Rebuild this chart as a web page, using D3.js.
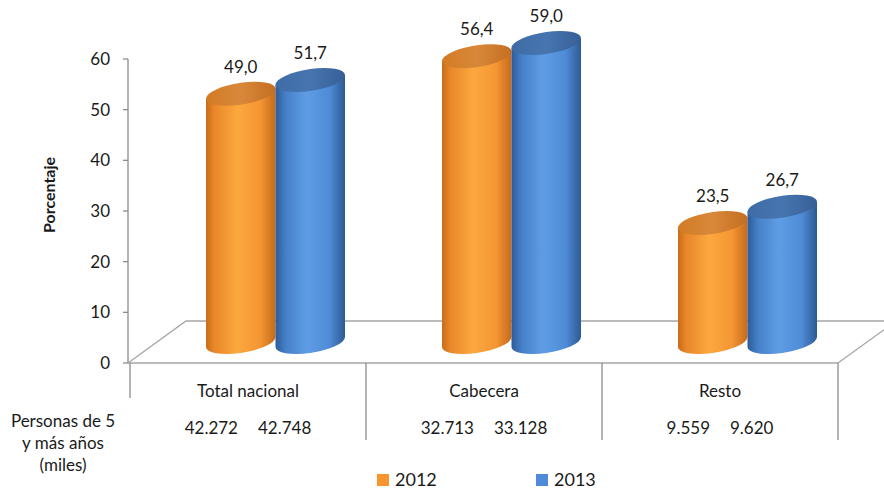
<!DOCTYPE html>
<html><head><meta charset="utf-8">
<script src="https://cdn.jsdelivr.net/npm/d3@7"></script>
<style>
body{margin:0;background:#fff}
text{font-family:Lato,"Open Sans",sans-serif;fill:#1a1a1a}
</style>
</head><body><svg id="c" width="884" height="490"></svg>
<script>
const categories = ["Total nacional", "Cabecera", "Resto"];
const series = ["2012", "2013"];
const values2012 = [49.0, 56.4, 23.5];
const values2013 = [51.7, 59.0, 26.7];
const persons2012 = ["42.272", "32.713", "9.559"];
const persons2013 = ["42.748", "33.128", "9.620"];
const yTicks = [0, 10, 20, 30, 40, 50, 60];
const rowHeader = ["Personas de 5", "y más años", "(miles)"];
const yTitle = "Porcentaje";
const seriesColors = {"2012": "#f7962f", "2013": "#4f8bd6"};

const svg = d3.select("#c");
const defs = svg.append("defs");
const fs = "17px";

function grad(id, stops) {
  const g = defs.append("linearGradient").attr("id", id).attr("x1", "0").attr("x2", "1").attr("y1", "0").attr("y2", "0");
  stops.forEach(s => g.append("stop").attr("offset", s[0]).attr("stop-color", s[1]));
}
grad("body2012", [["0", "#c96c18"], ["0.12", "#e9872a"], ["0.45", "#fca83f"], ["0.78", "#f49633"], ["1", "#c56a1b"]]);
grad("body2013", [["0", "#2e5c98"], ["0.15", "#4680c8"], ["0.45", "#5e9de5"], ["0.78", "#4f8bd6"], ["1", "#2d5a94"]]);
grad("top2012", [["0", "#d27b25"], ["0.5", "#d9883a"], ["1", "#c46e20"]]);
grad("top2013", [["0", "#3f6ca7"], ["0.5", "#4775b0"], ["1", "#375f96"]]);

const x = d3.scaleBand().domain(categories).range([130, 838]);
const y = d3.scaleLinear().domain([0, 60]).range([363, 59]);
const depth = {dx: 58, dy: -42};
const barShift = {dx: 28, dy: -21};
const sub = d3.scaleBand().domain(series).range([-42, 97]);
const ry = 11;
const gridColor = "#a6a6a6";

// floor
const x0 = x.range()[0] - 2, x1 = x.range()[1];
const y0 = y(0);
svg.append("path")
  .attr("d", `M${x0},${y0} L${x0 + depth.dx},${y0 + depth.dy} L${x1 + depth.dx},${y0 + depth.dy} M${x1},${y0} L${x1 + depth.dx},${y0 + depth.dy}`)
  .attr("fill", "none").attr("stroke", gridColor).attr("stroke-width", 1.3);

// bars
const data = [];
categories.forEach((c, i) => {
  data.push({cat: c, s: "2012", v: values2012[i]});
  data.push({cat: c, s: "2013", v: values2013[i]});
});
const fmt = v => d3.format(".1f")(v).replace(".", ",");

data.forEach(d => {
  const cc = x(d.cat) + x.bandwidth() / 2;
  const left = cc + sub(d.s);
  const w = sub.bandwidth();
  const cx = left + w / 2;
  const base = y(0) + barShift.dy;
  const top = y(d.v) + barShift.dy;
  const g = svg.append("g").attr("transform", `translate(${cx},0) skewY(-8) translate(${-cx},0)`);
  g.append("path")
    .attr("d", `M${left},${top} L${left},${base} A${w / 2},${ry} 0 0 0 ${left + w},${base} L${left + w},${top} Z`)
    .attr("fill", `url(#body${d.s})`);
  g.append("ellipse").attr("cx", cx).attr("cy", top).attr("rx", w / 2).attr("ry", ry)
    .attr("fill", `url(#top${d.s})`);
  svg.append("text").attr("x", cx).attr("y", top - 21).attr("text-anchor", "middle")
    .style("font-size", fs).text(fmt(d.v));
});

// y axis
const ax = svg.append("g");
ax.append("line").attr("x1", 128).attr("x2", 128).attr("y1", y(60)).attr("y2", y(0)).attr("stroke", "#8c8c8c").attr("stroke-width", 1.3);
yTicks.forEach(t => {
  ax.append("line").attr("x1", 123).attr("x2", 128).attr("y1", y(t)).attr("y2", y(t)).attr("stroke", "#8c8c8c").attr("stroke-width", 1.3);
  ax.append("text").attr("x", 110).attr("y", y(t)).attr("dy", "0.36em").attr("text-anchor", "end")
    .style("font-size", fs).text(t);
});
svg.append("text").attr("transform", `translate(55,195) rotate(-90)`).attr("text-anchor", "middle")
  .style("font-size", "16px").style("font-weight", "bold").text(yTitle);

// category frame
svg.append("line").attr("x1", x0).attr("x2", x1).attr("y1", y0).attr("y2", y0).attr("stroke", gridColor).attr("stroke-width", 1.5);
svg.append("line").attr("x1", x.range()[0]).attr("x2", x.range()[0]).attr("y1", y0).attr("y2", 398).attr("stroke", "#8c8c8c").attr("stroke-width", 1.3);
categories.forEach(c => {
  const xe = x(c) + x.bandwidth();
  svg.append("line").attr("x1", xe).attr("x2", xe).attr("y1", y0).attr("y2", 440).attr("stroke", "#8c8c8c").attr("stroke-width", 1.3);
});

// category labels & table
categories.forEach((c, i) => {
  const cc = x(c) + x.bandwidth() / 2;
  svg.append("text").attr("x", cc).attr("y", 397).attr("text-anchor", "middle").style("font-size", fs).text(c);
  svg.append("text").attr("x", cc - 10).attr("y", 434).attr("text-anchor", "end").style("font-size", fs).text(persons2012[i]);
  svg.append("text").attr("x", cc + 10).attr("y", 434).attr("text-anchor", "start").style("font-size", fs).text(persons2013[i]);
});
rowHeader.forEach((t, i) => {
  svg.append("text").attr("x", 63).attr("y", 427 + i * 22).attr("text-anchor", "middle").style("font-size", fs).text(t);
});

// legend
const legendX = {"2012": 377, "2013": 536};
series.forEach(s => {
  svg.append("rect").attr("x", legendX[s]).attr("y", 474).attr("width", 12).attr("height", 12).attr("fill", seriesColors[s]);
  svg.append("text").attr("x", legendX[s] + 18).attr("y", 486).style("font-size", "18px").text(s);
});
</script>
</body></html>
